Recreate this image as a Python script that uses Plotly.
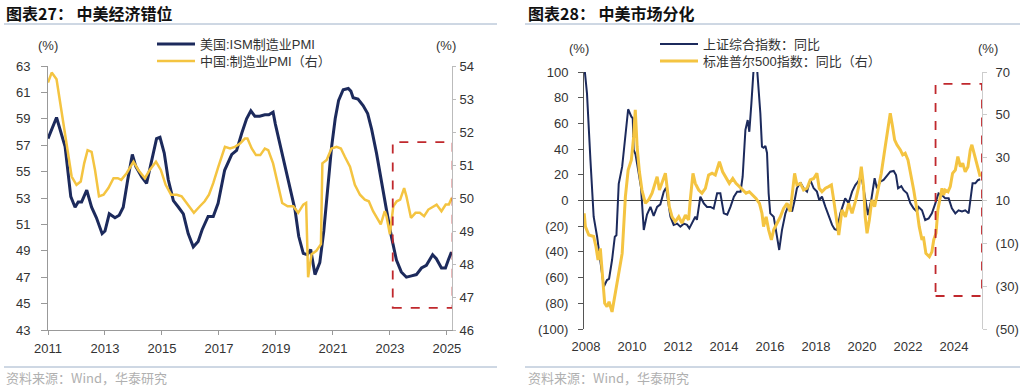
import plotly.graph_objects as go

# ---------------- data (decimal years) ----------------
us_t = [2011.00, 2011.30, 2011.60, 2011.80, 2011.95, 2012.06, 2012.18, 2012.36, 2012.53, 2012.70,
        2012.90, 2013.00, 2013.15, 2013.35, 2013.50, 2013.64, 2013.80, 2013.96, 2014.08, 2014.29,
        2014.46, 2014.61, 2014.81, 2014.93, 2015.08, 2015.22, 2015.40, 2015.58, 2015.75, 2015.92,
        2016.10, 2016.27, 2016.41, 2016.62, 2016.80, 2016.97, 2017.20, 2017.45, 2017.62, 2017.80,
        2017.97, 2018.12, 2018.26, 2018.43, 2018.61, 2018.75, 2018.90, 2018.98, 2019.14, 2019.32,
        2019.49, 2019.67, 2019.80, 2019.96, 2020.10, 2020.22, 2020.37, 2020.54, 2020.68, 2020.82,
        2020.95, 2021.08, 2021.20, 2021.36, 2021.54, 2021.63, 2021.71, 2021.88, 2022.06, 2022.22,
        2022.36, 2022.53, 2022.71, 2022.88, 2023.06, 2023.23, 2023.40, 2023.58, 2023.76, 2023.93,
        2024.11, 2024.28, 2024.50, 2024.63, 2024.81, 2024.95, 2025.05, 2025.16]
us_v = [57.5, 59.1, 56.9, 53.1, 52.3, 52.7, 52.7, 53.6, 52.3, 51.5,
        50.3, 50.5, 51.8, 51.5, 51.7, 52.3, 54.4, 56.3, 55.4, 54.6,
        54.1, 55.6, 57.5, 57.6, 56.4, 54.4, 52.8, 52.3, 51.8, 50.3,
        49.3, 49.7, 50.6, 51.6, 51.6, 52.6, 55.1, 56.3, 56.6, 57.9,
        59.0, 59.6, 59.2, 59.2, 59.3, 59.3, 59.5, 58.6, 57.1, 55.6,
        53.9, 52.1, 50.1, 48.8, 48.7, 49.1, 47.2, 48.1, 50.5, 53.8,
        56.8, 59.0, 60.4, 61.2, 61.3, 61.1, 60.6, 60.5, 60.0, 59.4,
        58.2, 56.4, 54.1, 52.1, 50.0, 48.3, 47.4, 47.0, 47.1, 47.2,
        47.7, 47.9, 48.7, 48.4, 47.7, 47.7, 48.3, 48.9]

cn_t = [2011.00, 2011.13, 2011.30, 2011.48, 2011.66, 2011.83, 2012.00, 2012.15, 2012.27, 2012.39,
        2012.53, 2012.65, 2012.79, 2012.95, 2013.12, 2013.30, 2013.45, 2013.57, 2013.76, 2014.00,
        2014.17, 2014.40, 2014.57, 2014.79, 2014.96, 2015.13, 2015.32, 2015.52, 2015.69, 2015.92,
        2016.12, 2016.33, 2016.50, 2016.65, 2016.80, 2016.98, 2017.10, 2017.21, 2017.39, 2017.56,
        2017.74, 2017.91, 2018.00, 2018.15, 2018.30, 2018.45, 2018.61, 2018.73, 2018.90, 2019.08,
        2019.22, 2019.41, 2019.61, 2019.78, 2019.96, 2020.06, 2020.13, 2020.25, 2020.42, 2020.58,
        2020.63, 2020.78, 2020.95, 2021.13, 2021.28, 2021.42, 2021.60, 2021.77, 2021.95, 2022.12,
        2022.26, 2022.41, 2022.59, 2022.68, 2022.82, 2022.88, 2023.00, 2023.12, 2023.24, 2023.36,
        2023.50, 2023.58, 2023.74, 2023.90, 2024.05, 2024.20, 2024.35, 2024.53, 2024.64, 2024.81,
        2024.96, 2025.07, 2025.17]
cn_v = [53.5, 53.8, 53.6, 52.6, 51.55, 50.65, 50.4, 50.5, 51.05, 51.45,
        51.4, 50.85, 50.05, 50.1, 50.3, 50.6, 50.6, 50.55, 50.75, 51.1,
        50.85, 50.6, 50.85, 51.1, 50.85, 50.4, 50.1, 50.1, 50.05, 49.8,
        49.55, 49.75, 49.9, 50.1, 50.45, 50.95, 51.25, 51.55, 51.5, 51.55,
        51.65, 51.8, 51.8, 51.5, 51.3, 51.3, 51.5, 51.45, 51.05, 50.35,
        49.85, 49.75, 49.75, 49.55, 49.8, 49.85, 47.6, 48.3, 48.4, 48.6,
        51.05, 51.15, 51.5, 51.55, 51.5, 51.25, 50.95, 50.4, 50.1, 49.95,
        49.9, 49.6, 49.35, 49.2, 49.6, 49.45, 48.9, 49.75, 49.9, 49.95,
        50.3, 50.05, 49.4, 49.55, 49.55, 49.45, 49.65, 49.75, 49.8, 49.6,
        49.8, 49.8, 50.0]

sse_t = [2007.92, 2008.04, 2008.19, 2008.33, 2008.48, 2008.62, 2008.77, 2008.91, 2009.00, 2009.13,
         2009.25, 2009.32, 2009.42, 2009.57, 2009.71, 2009.83, 2009.97, 2010.03, 2010.07, 2010.15,
         2010.29, 2010.39, 2010.51, 2010.65, 2010.80, 2010.94, 2011.09, 2011.23, 2011.38, 2011.48,
         2011.67, 2011.81, 2011.96, 2012.10, 2012.25, 2012.39, 2012.49, 2012.60, 2012.75, 2012.82,
         2012.97, 2013.12, 2013.26, 2013.41, 2013.55, 2013.70, 2013.84, 2013.99, 2014.14, 2014.28,
         2014.43, 2014.57, 2014.72, 2014.81, 2014.93, 2015.03, 2015.10, 2015.19, 2015.30, 2015.37,
         2015.44, 2015.48, 2015.58, 2015.65, 2015.72, 2015.80, 2015.87, 2015.94, 2016.01, 2016.16,
         2016.30, 2016.40, 2016.52, 2016.67, 2016.81, 2016.96, 2017.07, 2017.17, 2017.32, 2017.46,
         2017.61, 2017.75, 2017.90, 2018.04, 2018.14, 2018.26, 2018.41, 2018.55, 2018.70, 2018.81,
         2018.91, 2019.06, 2019.27, 2019.42, 2019.57, 2019.71, 2019.83, 2019.97, 2020.07, 2020.26,
         2020.40, 2020.55, 2020.65, 2020.80, 2020.94, 2021.09, 2021.23, 2021.38, 2021.48, 2021.57,
         2021.71, 2021.81, 2021.96, 2022.10, 2022.25, 2022.39, 2022.46, 2022.61, 2022.75, 2022.90,
         2023.04, 2023.19, 2023.33, 2023.48, 2023.62, 2023.77, 2023.91, 2024.06, 2024.20, 2024.35,
         2024.49, 2024.64, 2024.75, 2024.81, 2024.93, 2025.04, 2025.14]
sse_v = [105, 83.4, 31.5, -12.6, -28.2, -46.3, -67.1, -61.9, -61.0, -46.3,
         -28.2, -27.0, 13.0, 26.3, 49.6, 71.0, 65.2, 64.0, 39.3, 36.0,
         21.2, 10.0, -23.0, -11.0, -5.0, -12.0, -5.0, -3.0, 6.9, 10.0,
         -12.6, -19.0, -18.0, -20.4, -18.0, -19.0, -21.7, -17.5, -12.6, -15.0,
         3.0, -2.2, -5.0, -5.0, -6.3, 5.6, 5.6, -10.0, -11.0, -5.0,
         3.0, 6.9, 6.9, 18.5, 54.9, 62.6, 53.5, 75.6, 115, 125,
         102, 93.8, 67.9, 41.9, 41.0, 42.4, 37.0, 5.6, -10.0, -12.6,
         -28.2, -38.5, -23.0, -10.0, -3.5, -8.5, 0.0, 9.5, 14.0, 9.5,
         6.9, 16.0, 9.5, 6.9, 0.4, 3.0, -5.0, -12.6, -19.0, -22.4,
         -23.0, -10.0, 1.7, -2.0, 6.9, 12.0, 14.7, 19.8, 8.0, -11.3,
         0.0, 17.3, 9.5, 14.7, 16.0, 19.8, 22.4, 23.0, 19.8, 9.5,
         11.2, 8.0, 5.6, -2.0, -6.3, -8.5, -5.0, -7.6, -15.2, -14.0,
         -10.0, -2.2, 5.6, 4.3, 1.7, 1.7, -6.1, -10.0, -7.6, -8.5,
         -7.6, -10.0, 5.6, 13.4, 13.4, 15.8, 16.5]

spx_t = [2007.92, 2007.97, 2008.12, 2008.33, 2008.43, 2008.52, 2008.62, 2008.72, 2008.81, 2008.91,
         2009.00, 2009.13, 2009.27, 2009.42, 2009.57, 2009.71, 2009.83, 2009.97, 2010.07, 2010.14,
         2010.22, 2010.32, 2010.43, 2010.58, 2010.72, 2010.87, 2011.01, 2011.09, 2011.19, 2011.30,
         2011.45, 2011.52, 2011.62, 2011.74, 2011.88, 2012.03, 2012.17, 2012.32, 2012.46, 2012.53,
         2012.65, 2012.75, 2012.90, 2013.04, 2013.19, 2013.33, 2013.48, 2013.62, 2013.80, 2013.94,
         2014.09, 2014.23, 2014.38, 2014.52, 2014.67, 2014.81, 2014.96, 2015.10, 2015.25, 2015.39,
         2015.54, 2015.65, 2015.72, 2015.83, 2015.94, 2016.06, 2016.16, 2016.30, 2016.45, 2016.59,
         2016.74, 2016.88, 2016.99, 2017.07, 2017.17, 2017.32, 2017.46, 2017.61, 2017.75, 2017.90,
         2018.04, 2018.14, 2018.26, 2018.41, 2018.55, 2018.67, 2018.77, 2018.87, 2018.99, 2019.13,
         2019.28, 2019.42, 2019.57, 2019.71, 2019.86, 2019.97, 2020.07, 2020.14, 2020.22, 2020.32,
         2020.43, 2020.55, 2020.70, 2020.84, 2021.01, 2021.13, 2021.23, 2021.33, 2021.42, 2021.52,
         2021.67, 2021.77, 2021.88, 2022.00, 2022.09, 2022.25, 2022.39, 2022.49, 2022.61, 2022.67,
         2022.78, 2022.93, 2023.04, 2023.12, 2023.22, 2023.30, 2023.41, 2023.48, 2023.55, 2023.62,
         2023.74, 2023.84, 2023.94, 2024.06, 2024.17, 2024.28, 2024.38, 2024.49, 2024.61, 2024.71,
         2024.78, 2024.90, 2025.00, 2025.14]
spx_v = [4.0, -2.2, -6.1, -6.8, -11.6, -17.8, -12.4, -25.6, -38.0, -39.6,
         -37.3, -42.0, -33.3, -25.6, -14.7, 11.8, 24.2, 28.9, 39.8, 52.3,
         35.1, 23.4, 14.9, 8.7, 10.3, 13.4, 18.0, 21.1, 14.9, 18.0,
         22.7, 16.5, 7.1, 2.4, 0.1, 2.4, -0.6, 3.2, 0.9, 10.2,
         22.7, 18.0, 14.9, 13.4, 15.7, 21.9, 22.7, 21.9, 28.1, 23.4,
         20.3, 18.0, 20.3, 18.0, 16.5, 14.9, 13.4, 14.1, 12.6, 11.0,
         8.7, 4.0, -2.2, 2.4, -3.7, -8.4, -3.7, -0.6, 2.4, 6.3,
         8.7, 4.8, 16.5, 22.7, 17.3, 18.0, 14.9, 15.7, 19.6, 20.3,
         22.7, 15.7, 14.1, 15.7, 16.5, 17.3, 10.3, 2.4, -6.1, 5.6,
         2.4, 8.7, 4.0, 9.5, 16.5, 25.8, 16.5, 2.4, -5.3, 0.9,
         10.3, 7.1, 14.9, 22.7, 35.1, 44.5, 50.7, 44.5, 38.3, 36.0,
         33.6, 31.3, 32.1, 29.0, 24.2, 14.9, 5.6, -2.2, -8.4, -6.8,
         -14.7, -16.3, -14.0, -8.4, -5.3, 5.6, 11.8, 15.7, 12.6, 14.9,
         14.1, 16.5, 22.7, 24.2, 30.5, 25.8, 27.4, 23.4, 25.8, 33.6,
         36.0, 31.3, 26.6, 21.1]

left_x_ticks = [2011, 2013, 2015, 2017, 2019, 2021, 2023, 2025]
left_x_labels = [str(v) for v in left_x_ticks]
right_x_ticks = [2008, 2010, 2012, 2014, 2016, 2018, 2020, 2022, 2024]
right_x_labels = [str(v) for v in right_x_ticks]
sse_ticks = [-100, -80, -60, -40, -20, 0, 20, 40, 60, 80, 100]
sse_labels = ["(100)", "(80)", "(60)", "(40)", "(20)", "0", "20", "40", "60", "80", "100"]
spx_ticks = [-50, -30, -10, 10, 30, 50, 70]
spx_labels = ["(50)", "(30)", "(10)", "10", "30", "50", "70"]

names = ["美国:ISM制造业PMI", "中国:制造业PMI（右）", "上证综合指数：同比", "标准普尔500指数：同比（右）"]

NAVY = "#1C2A5C"
GOLD = "#F4C441"
RED = "#C0282D"
CJK = "Noto Sans CJK SC"
LAT = "Liberation Sans, Arial, sans-serif"
W, H = 1024, 387

def px(xp):
    return xp / W

def py(yp):
    return (H - yp) / H

fig = go.Figure()
fig.add_trace(go.Scatter(x=us_t, y=us_v, name=names[0], mode="lines", line=dict(color=NAVY, width=3),
                         xaxis="x", yaxis="y", legend="legend"))
fig.add_trace(go.Scatter(x=cn_t, y=cn_v, name=names[1], mode="lines", line=dict(color=GOLD, width=2.5),
                         xaxis="x", yaxis="y2", legend="legend2"))
fig.add_trace(go.Scatter(x=sse_t, y=sse_v, name=names[2], mode="lines", line=dict(color=NAVY, width=2),
                         xaxis="x2", yaxis="y3", legend="legend3"))
fig.add_trace(go.Scatter(x=spx_t, y=spx_v, name=names[3], mode="lines", line=dict(color=GOLD, width=3),
                         xaxis="x2", yaxis="y4", legend="legend4"))

tickfont = dict(family=LAT, size=13, color="#333333")

leg_common = dict(bgcolor="rgba(0,0,0,0)",
                  font=dict(family="Liberation Sans, Noto Sans CJK SC", size=13, color="#333333"),
                  xanchor="left", yanchor="middle", itemwidth=38, borderwidth=0)

fig.update_layout(
    template="none",
    width=W, height=H, margin=dict(l=0, r=0, t=0, b=0, pad=0, autoexpand=False),
    paper_bgcolor="white", plot_bgcolor="white",
    xaxis=dict(domain=[px(48), px(452)], range=[2011, 2025.18], tickvals=left_x_ticks, ticktext=left_x_labels,
               showline=True, linecolor="#999999", linewidth=1, ticks="outside", ticklen=4, tickcolor="#999999",
               showgrid=False, zeroline=False, anchor="y", tickfont=tickfont, ticklabelstandoff=2,
               automargin=False),
    yaxis=dict(domain=[py(330), py(66)], range=[43, 63], tick0=43, dtick=2,
               showline=True, linecolor="#999999", linewidth=1, ticks="outside", ticklen=6, tickcolor="#999999",
               showgrid=False, zeroline=False, anchor="x", tickfont=tickfont, ticklabelstandoff=8,
               automargin=False),
    yaxis2=dict(domain=[py(330), py(66)], range=[46, 54], tick0=46, dtick=1, overlaying="y", side="right",
                showline=True, linecolor="#bbbbbb", linewidth=1, ticks="outside", ticklen=3, tickcolor="#bbbbbb",
                showgrid=False, zeroline=False, anchor="x", tickfont=tickfont, ticklabelstandoff=1,
                automargin=False),
    xaxis2=dict(domain=[px(584), px(982)], range=[2007.91, 2025.22], tickvals=right_x_ticks, ticktext=right_x_labels,
                showline=False, ticks="", showgrid=False, zeroline=False, anchor="y3", tickfont=tickfont,
                ticklabelstandoff=8, automargin=False),
    yaxis3=dict(domain=[py(329), py(72)], range=[-100, 100], tickvals=sse_ticks, ticktext=sse_labels,
                showline=True, linecolor="#555555", linewidth=1, ticks="outside", ticklen=5, tickcolor="#555555",
                showgrid=False, zeroline=True, zerolinecolor="#444444", zerolinewidth=1,
                anchor="x2", tickfont=tickfont, ticklabelstandoff=7, automargin=False),
    yaxis4=dict(domain=[py(329), py(72)], range=[-50, 70], tickvals=spx_ticks, ticktext=spx_labels,
                overlaying="y3", side="right",
                showline=True, linecolor="#cccccc", linewidth=1, ticks="outside", ticklen=4, tickcolor="#cccccc",
                showgrid=False, zeroline=False, anchor="x2", tickfont=tickfont, ticklabelstandoff=6,
                automargin=False),
    legend=dict(x=px(152), y=py(44), **leg_common),
    legend2=dict(x=px(152), y=py(61), **leg_common),
    legend3=dict(x=px(655), y=py(44), **leg_common),
    legend4=dict(x=px(655), y=py(61), **leg_common),
    showlegend=True,
)

shapes = [
    # highlight boxes
    dict(type="rect", xref="x", yref="y", x0=2023.1, x1=2025.2, y0=44.67, y1=57.24,
         line=dict(color=RED, width=1.8, dash="dash"), fillcolor="rgba(0,0,0,0)", layer="above"),
    dict(type="rect", xref="x2", yref="y3", x0=2023.2, x1=2025.22, y0=-74.3, y1=90.7,
         line=dict(color=RED, width=1.8, dash="dash"), fillcolor="rgba(0,0,0,0)", layer="above"),
    # separators
    dict(type="line", xref="paper", yref="paper", x0=px(4), x1=px(497), y0=py(24), y1=py(24),
         line=dict(color="#9DB0C8", width=1)),
    dict(type="line", xref="paper", yref="paper", x0=px(525), x1=px(1020), y0=py(24), y1=py(24),
         line=dict(color="#9DB0C8", width=1)),
    dict(type="line", xref="paper", yref="paper", x0=px(4), x1=px(497), y0=py(367), y1=py(367),
         line=dict(color="#9DB0C8", width=1)),
    dict(type="line", xref="paper", yref="paper", x0=px(525), x1=px(1020), y0=py(367), y1=py(367),
         line=dict(color="#9DB0C8", width=1)),
]
fig.update_layout(shapes=shapes)

ann = []
def add_text(text, x, y, size, color, family=CJK, xanchor="left"):
    ann.append(dict(text=text, x=px(x), y=py(y), xref="paper", yref="paper", showarrow=False,
                    xanchor=xanchor, yanchor="middle", font=dict(family=family, size=size, color=color)))

add_text("<b>图表27：</b> <b>中美经济错位</b>", 4, 13, 16, "#111111")
add_text("<b>图表28：</b> <b>中美市场分化</b>", 526, 13, 16, "#111111")
add_text("资料来源：Wind，华泰研究", 4, 377, 13, "#B0B0B0")
add_text("资料来源：Wind，华泰研究", 526, 377, 13, "#B0B0B0")
add_text("(%)", 48, 46, 13, "#333333", family=LAT, xanchor="center")
add_text("(%)", 446, 46, 13, "#333333", family=LAT, xanchor="center")
add_text("(%)", 579, 48, 13, "#333333", family=LAT, xanchor="center")
add_text("(%)", 988, 48, 13, "#333333", family=LAT, xanchor="center")
fig.update_layout(annotations=ann)

fig.write_html("out.html", config={"displayModeBar": False},
               post_script="document.body.style.margin='0';document.body.style.padding='0';"
                           "document.documentElement.style.overflow='hidden';")
